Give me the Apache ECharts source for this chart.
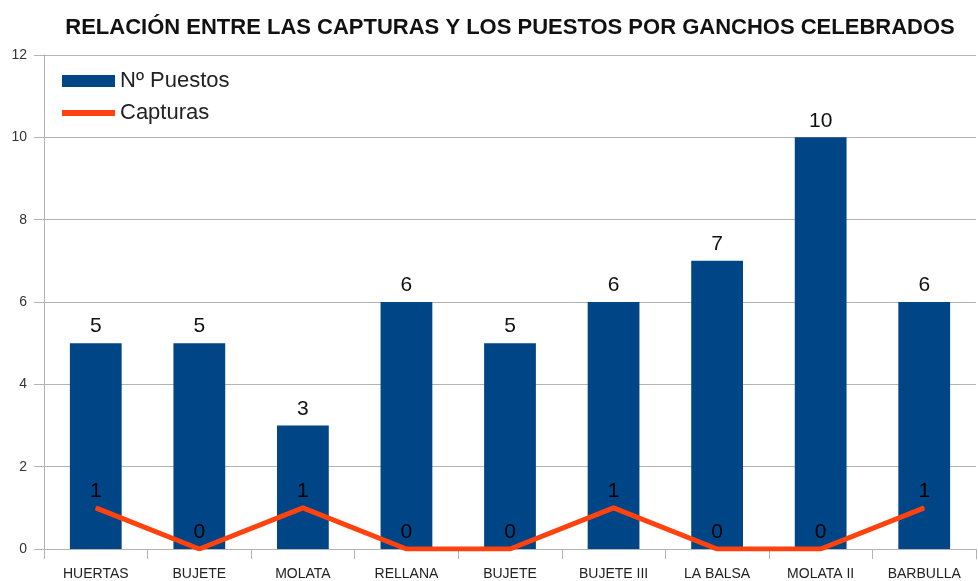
<!DOCTYPE html>
<html>
<head>
<meta charset="utf-8">
<script src="https://cdn.jsdelivr.net/npm/echarts@6/dist/echarts.min.js"></script>
<style>
html, body { margin: 0; padding: 0; background: #fff; }
#chart { width: 978px; height: 581px; }
</style>
</head>
<body>
<div id="chart"></div>
<script>
const parajes = ['HUERTAS', 'BUJETE', 'MOLATA', 'RELLANA', 'BUJETE', 'BUJETE III', 'LA BALSA', 'MOLATA II', 'BARBULLA'];
const puestos = [5, 5, 3, 6, 5, 6, 7, 10, 6];
const capturas = [1, 0, 1, 0, 0, 1, 0, 0, 1];

const font = "'Liberation Sans Narrow', 'Liberation Sans', Arial, sans-serif";
const myChart = echarts.init(document.getElementById('chart'));
const option = {
	animation: false,
	title: {
		text: 'RELACIÓN ENTRE LAS CAPTURAS Y LOS PUESTOS POR GANCHOS CELEBRADOS',
		left: 505,
		textAlign: 'center',
		top: 12,
		textStyle: { fontFamily: font, fontSize: 22, fontWeight: 'bold', color: '#111' }
	},
	legend: {
		orient: 'vertical',
		left: 57,
		top: 65,
		itemWidth: 53,
		itemHeight: 12,
		itemGap: 10,
		textStyle: { fontFamily: font, fontSize: 22, color: '#222' },
		data: [
			{ name: 'Nº Puestos', icon: 'rect' },
			// linea fina en la leyenda (los subtrazos vacios fijan la caja)
			{ name: 'Capturas', icon: 'path://M0,0h1v0h-1z M0,3h53v6h-53z M0,12h1v0h-1z', itemStyle: { color: '#ff420e' } }
		]
	},
	grid: { left: 44, right: 2, top: 55, bottom: 31, containLabel: false },
	xAxis: {
		type: 'category',
		data: parajes,
		axisLine: { lineStyle: { color: '#b3b3b3', width: 1 } },
		axisTick: { show: true, length: 10, lineStyle: { color: '#b3b3b3' } },
		axisLabel: { fontFamily: "'Liberation Sans', Arial, sans-serif", fontSize: 14, color: '#222', margin: 18 }
	},
	yAxis: {
		type: 'value',
		min: 0,
		max: 12,
		interval: 2,
		axisLine: { show: true, lineStyle: { color: '#b3b3b3' } },
		axisTick: { show: true, length: 10, lineStyle: { color: '#b3b3b3' } },
		axisLabel: { fontFamily: "'Liberation Sans', Arial, sans-serif", fontSize: 14, color: '#333', margin: 17 },
		splitLine: { lineStyle: { color: '#b3b3b3' } }
	},
	series: [
		{
			name: 'Nº Puestos',
			type: 'bar',
			data: puestos,
			barWidth: '50%',
			itemStyle: { color: '#004586' },
			label: { show: true, position: 'top', distance: 6, fontFamily: font, fontSize: 21, color: '#111' }
		},
		{
			name: 'Capturas',
			type: 'line',
			z: 5,
			data: capturas,
			symbol: 'circle',
			symbolSize: 1,
			lineStyle: { color: '#ff420e', width: 5 },
			itemStyle: { color: '#ff420e' },
			label: { show: true, position: 'top', distance: 6, fontFamily: font, fontSize: 21, color: '#000', textBorderWidth: 0 }
		}
	]
};
myChart.setOption(option);
</script>
</body>
</html>
